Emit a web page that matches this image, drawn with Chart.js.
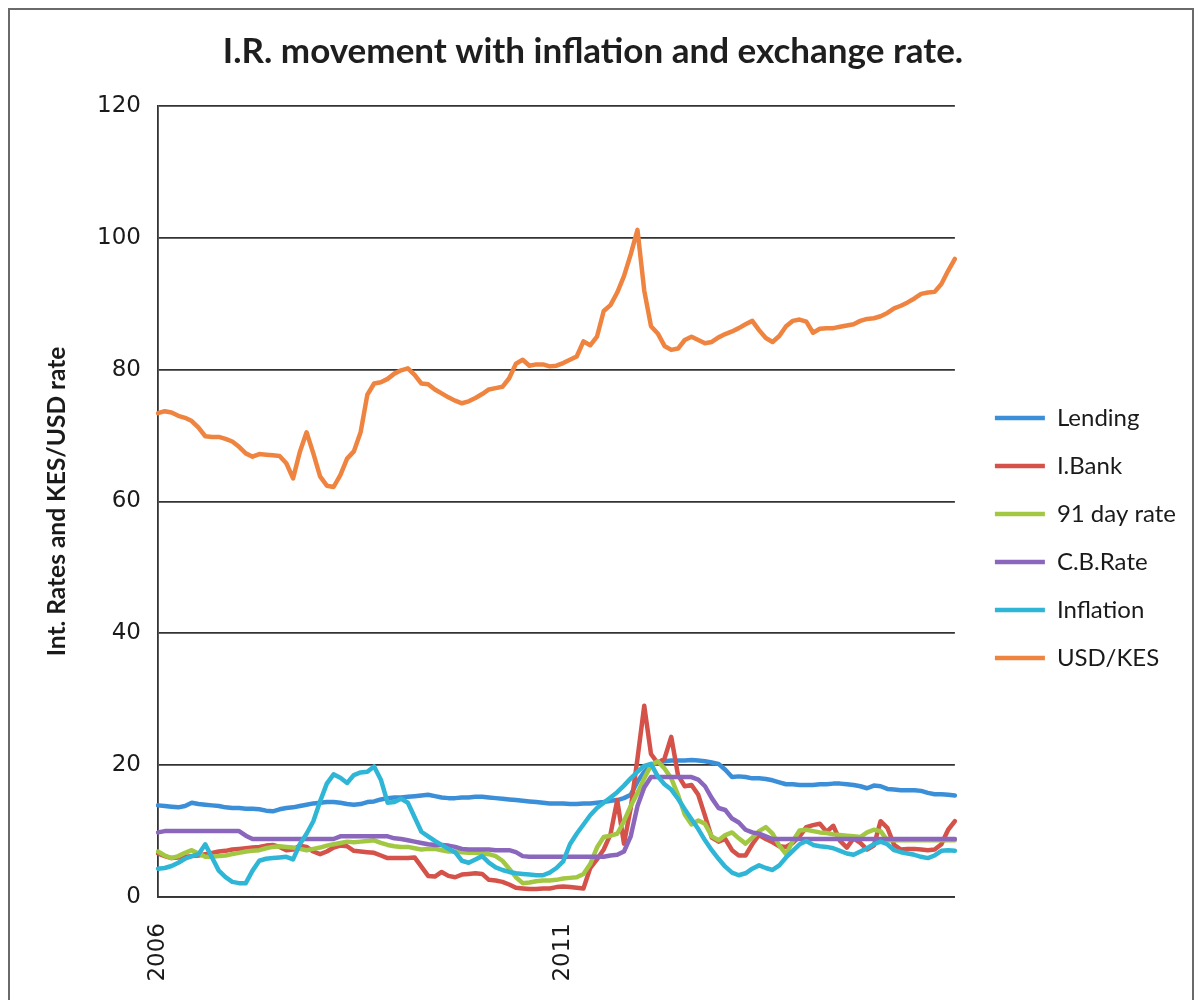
<!DOCTYPE html>
<html lang="en">
<head>
  <meta charset="UTF-8">
  <title>I.R. movement with inflation and exchange rate</title>
  <style>
    html, body { margin: 0; padding: 0; background: #fff; overflow: hidden; }
    .frame { position: absolute; left: 8px; top: 8px; width: 1186px; height: 1010px; border: 2px solid #6a6a6a; box-sizing: border-box; }
    canvas { position: absolute; left: 0; top: 0; }
  </style>
</head>
<body>
  <div class="frame"></div>
  <canvas id="chart" width="1200" height="1000"></canvas>

  <script src="https://cdn.jsdelivr.net/npm/chart.js"></script>
  <script>
// monthly values, Jan 2006 onwards
const startYear = 2006;
const tickYears = ['2006', '2011'];

const lending = [
  13.9,13.8,13.7,13.6,13.8,14.3,14.1,14.0,13.9,13.8,
  13.6,13.5,13.5,13.4,13.4,13.3,13.1,13.0,13.3,13.5,
  13.6,13.8,14.0,14.2,14.3,14.4,14.4,14.3,14.1,14.0,
  14.1,14.4,14.5,14.8,15.0,15.1,15.1,15.2,15.3,15.4,
  15.5,15.3,15.1,15.0,15.0,15.1,15.1,15.2,15.2,15.1,
  15.0,14.9,14.8,14.7,14.6,14.5,14.4,14.3,14.2,14.2,
  14.2,14.1,14.1,14.2,14.2,14.3,14.4,14.6,14.7,15.0,
  15.5,17.5,19.0,20.0,20.4,20.6,20.7,20.7,20.7,20.8,
  20.7,20.6,20.4,20.2,19.3,18.2,18.3,18.2,18.0,18.0,
  17.9,17.7,17.4,17.1,17.1,17.0,17.0,17.0,17.1,17.1,
  17.2,17.2,17.1,17.0,16.8,16.5,16.9,16.8,16.4,16.3,
  16.2,16.2,16.2,16.1,15.8,15.6,15.6,15.5,15.4
];

const iBank = [
  6.6,6.2,5.9,6.0,6.1,6.2,6.3,6.5,6.7,6.9,
  7.0,7.2,7.3,7.4,7.5,7.6,7.8,7.9,7.6,7.1,
  7.2,7.8,7.6,6.9,6.5,6.9,7.5,7.8,7.7,7.0,
  6.9,6.8,6.7,6.3,5.9,5.9,5.9,5.9,6.0,4.6,
  3.2,3.1,3.8,3.2,3.0,3.4,3.5,3.6,3.5,2.6,
  2.5,2.3,1.9,1.4,1.3,1.2,1.2,1.3,1.3,1.5,
  1.6,1.5,1.4,1.3,4.4,5.7,7.2,9.5,14.7,8.1,
  13.5,21.0,29.0,21.7,20.3,21.0,24.3,18.5,16.8,17.0,
  15.5,12.3,9.0,8.4,8.8,7.1,6.3,6.3,8.0,9.4,
  8.8,8.3,7.7,7.6,8.2,9.2,10.6,10.9,11.1,9.9,
  10.8,8.5,7.5,8.9,8.2,7.2,7.8,11.5,10.5,7.9,
  7.2,7.3,7.3,7.2,7.1,7.2,8.0,10.2,11.5
];

const tBill91 = [
  6.9,6.3,5.9,6.2,6.7,7.1,6.6,6.1,6.1,6.2,
  6.3,6.5,6.7,6.9,7.0,7.1,7.4,7.6,7.7,7.6,
  7.5,7.3,7.1,7.3,7.5,7.8,8.0,8.2,8.4,8.3,
  8.4,8.5,8.6,8.2,7.9,7.7,7.6,7.6,7.4,7.2,
  7.3,7.3,7.1,6.9,6.9,6.8,6.7,6.7,6.6,6.5,
  6.2,5.5,4.3,3.0,2.1,2.2,2.4,2.5,2.5,2.6,
  2.8,2.9,3.0,3.5,5.0,7.5,9.1,9.3,9.6,11.5,
  13.8,15.8,18.0,20.0,20.6,19.5,18.0,15.5,12.5,11.0,
  11.6,11.1,9.2,8.6,9.4,9.8,8.9,8.1,9.0,10.0,
  10.6,9.6,7.8,6.5,8.5,10.1,10.2,10.0,9.8,9.7,
  9.5,9.4,9.3,9.2,9.1,9.8,10.2,10.0,8.6,8.6,
  8.6,8.6,8.6,8.6,8.6,8.6,8.6,8.6,8.6
];

const cbRate = [
  9.8,10.0,10.0,10.0,10.0,10.0,10.0,10.0,10.0,10.0,
  10.0,10.0,10.0,9.3,8.8,8.8,8.8,8.8,8.8,8.8,
  8.8,8.8,8.8,8.8,8.8,8.8,8.8,9.2,9.2,9.2,
  9.2,9.2,9.2,9.2,9.2,8.9,8.8,8.6,8.4,8.2,
  8.0,7.9,7.9,7.8,7.6,7.3,7.2,7.2,7.2,7.2,
  7.1,7.1,7.1,6.8,6.2,6.1,6.1,6.1,6.1,6.1,
  6.1,6.1,6.1,6.1,6.1,6.1,6.1,6.3,6.4,6.9,
  9.2,13.8,16.6,18.2,18.2,18.2,18.2,18.2,18.2,18.2,
  17.8,16.8,15.0,13.5,13.2,11.9,11.3,10.2,9.8,9.6,
  9.2,8.8,8.8,8.8,8.8,8.8,8.8,8.8,8.8,8.8,
  8.8,8.8,8.8,8.8,8.8,8.8,8.8,8.8,8.8,8.8,
  8.8,8.8,8.8,8.8,8.8,8.8,8.8,8.8,8.8
];

const inflation = [
  4.3,4.4,4.7,5.2,5.8,6.2,6.5,8.0,6.0,4.0,
  3.0,2.3,2.1,2.1,4.0,5.5,5.8,5.9,6.0,6.1,
  5.7,8.0,9.6,11.5,14.5,17.2,18.6,18.1,17.3,18.5,
  18.9,19.0,19.8,17.8,14.3,14.4,14.9,14.3,12.1,9.9,
  9.2,8.5,7.9,7.3,6.8,5.5,5.2,5.7,6.2,5.2,
  4.5,4.1,3.8,3.6,3.5,3.4,3.3,3.3,3.7,4.4,
  5.4,8.0,9.6,11.0,12.4,13.5,14.3,15.1,15.9,16.9,
  18.0,19.0,19.9,20.2,18.3,17.1,16.3,14.9,13.3,11.8,
  10.3,8.6,7.1,5.8,4.6,3.7,3.3,3.6,4.3,4.8,
  4.4,4.1,4.8,6.0,7.0,8.0,8.5,7.9,7.7,7.6,
  7.4,7.0,6.6,6.4,6.9,7.4,8.0,8.4,8.0,7.1,
  6.8,6.6,6.4,6.1,5.9,6.3,7.0,7.1,7.0
];

const usdKes = [
  73.4,73.7,73.5,73.0,72.7,72.2,71.2,69.9,69.8,69.8,
  69.5,69.1,68.3,67.3,66.8,67.2,67.1,67.0,66.9,65.8,
  63.5,67.5,70.5,67.3,63.8,62.4,62.2,64.0,66.5,67.6,
  70.5,76.2,77.9,78.1,78.6,79.4,79.9,80.2,79.2,77.9,
  77.8,77.0,76.4,75.8,75.3,74.9,75.2,75.7,76.3,77.0,
  77.2,77.4,78.7,80.9,81.5,80.6,80.8,80.8,80.5,80.6,
  81.0,81.5,82.0,84.3,83.7,85.0,88.9,89.8,91.7,94.2,
  97.5,101.2,92.0,86.6,85.5,83.6,83.0,83.2,84.5,85.0,
  84.5,84.0,84.2,84.9,85.4,85.8,86.3,86.9,87.4,86.0,
  84.8,84.2,85.1,86.6,87.4,87.6,87.3,85.6,86.2,86.3,
  86.3,86.5,86.7,86.9,87.4,87.7,87.8,88.1,88.6,89.3,
  89.7,90.2,90.8,91.5,91.7,91.8,93.0,95.0,96.8
];

const seriesNames = ['Lending', 'I.Bank', '91 day rate', 'C.B.Rate', 'Inflation', 'USD/KES'];
const seriesColors = ['#3b8fd9', '#d4524a', '#a2c843', '#8a67bd', '#2fb6d6', '#ef8441'];
const seriesValues = [lending, iBank, tBill91, cbRate, inflation, usdKes];

const months = [];
for (let i = 0; i < usdKes.length; i++) {
  const y = startYear + Math.floor(i / 12);
  const m = (i % 12) + 1;
  months.push(y + '-' + String(m).padStart(2, '0'));
}

const datasets = seriesValues.map((vals, i) => ({
  label: seriesNames[i],
  data: vals,
  yAxisID: 'y',
  borderColor: seriesColors[i],
  backgroundColor: seriesColors[i],
  borderWidth: 4.5,
  pointRadius: 0,
  pointHoverRadius: 0,
  pointBorderWidth: 4.5,
  tension: 0,
  fill: false,
  borderCapStyle: 'round',
  borderJoinStyle: 'round',
  order: seriesNames.length - i   // later series painted on top, like the original
}));

const ctx = document.getElementById('chart').getContext('2d');

new Chart(ctx, {
  type: 'line',
  data: { labels: months, datasets: datasets },
  options: {
    responsive: false,
    animation: false,
    layout: { padding: { left: 0, right: 14, top: 0, bottom: 0 } },
    plugins: {
      title: {
        display: true,
        text: 'I.R. movement with inflation and exchange rate.',
        color: '#1e1e1e',
        font: { family: 'Lato', weight: 'bold', size: 35 },
        padding: { top: 31, bottom: 33 }
      },
      legend: {
        position: 'right',
        fullSize: false,
        maxWidth: 260,
        title: { display: true, text: '', padding: { top: 0, bottom: 58.6 } },
        labels: {
          usePointStyle: true,
          pointStyle: 'line',
          pointStyleWidth: 50,
          padding: 24,
          color: '#1a1a1a',
          font: { family: 'Lato', size: 24 },
          sort: (a, b) => a.datasetIndex - b.datasetIndex
        }
      },
      tooltip: { enabled: false }
    },
    scales: {
      x: {
        type: 'category',
        offset: false,
        grid: { display: false },
        border: { display: true, color: '#333', width: 1.8 },
        ticks: {
          autoSkip: false,
          minRotation: 90,
          maxRotation: 90,
          padding: 18,
          color: '#1a1a1a',
          font: { family: 'DejaVu Sans', size: 23 },
          callback: function (value) {
            const lab = this.getLabelForValue(value);
            const yr = lab.slice(0, 4);
            return (lab.endsWith('-01') && tickYears.includes(yr)) ? yr : null;
          }
        },
        afterFit: (scale) => { scale.height = 103; }
      },
      y: {
        min: 0,
        max: 120,
        grid: { color: '#333', lineWidth: 1.8, drawTicks: false },
        border: { display: true, color: '#333', width: 1.8 },
        ticks: {
          stepSize: 20,
          padding: 17,
          color: '#1a1a1a',
          font: { family: 'DejaVu Sans', size: 23 }
        },
        title: {
          display: true,
          text: 'Int. Rates and KES/USD rate',
          color: '#1a1a1a',
          font: { family: 'Lato', weight: 'bold', size: 24.5 },
          padding: { top: 42.3, bottom: 0 }
        },
        afterFit: (scale) => { scale.width = 158; }
      },
      gap: {
        type: 'linear',
        position: 'right',
        display: true,
        grid: { display: false },
        border: { display: false },
        ticks: { display: false },
        afterFit: (scale) => { scale.width = 16; }
      }
    }
  }
});
  </script>
</body>
</html>
